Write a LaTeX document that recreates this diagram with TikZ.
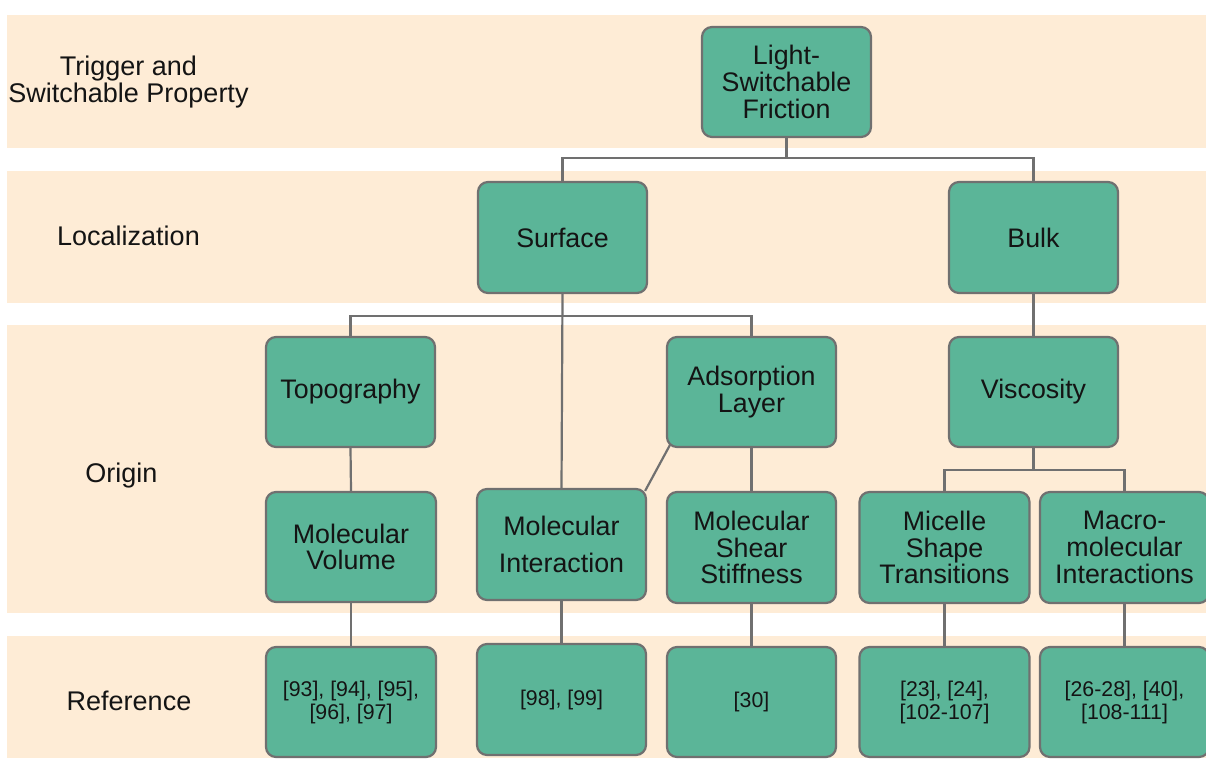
\documentclass[tikz,border=0pt]{standalone}
\usepackage{fontspec}
\setmainfont{Liberation Sans}
\definecolor{band}{RGB}{254,236,214}
\definecolor{boxfill}{RGB}{91,181,152}
\definecolor{boxline}{RGB}{112,112,112}
\definecolor{txt}{RGB}{20,20,20}
\tikzset{
  box/.style={rectangle, rounded corners=10pt, fill=boxfill, draw=boxline, line width=2.2pt,
    minimum width=169pt, minimum height=110pt, inner sep=0pt, align=center, text=txt,
    font=\fontsize{26.8}{26.8}\selectfont},
  refbox/.style={box, font=\fontsize{21.3}{23}\selectfont},
  lbl/.style={align=center, text=txt, inner sep=0pt, font=\fontsize{27}{27}\selectfont},
  conn/.style={draw=boxline, line width=2.2pt}
}
\begin{document}
\begin{tikzpicture}[x=1pt,y=-1pt]
\useasboundingbox (0,0) rectangle (1206,758);
\fill[white] (0,0) rectangle (1206,758);
% bands
\fill[band] (7,15) rectangle (1206,148);
\fill[band] (7,171) rectangle (1206,303);
\fill[band] (7,325) rectangle (1206,613);
\fill[band] (7,636) rectangle (1206,758);
% row labels
\node[lbl] (l1) at (128.5,82) {Trigger and\\Switchable Property};
\node[lbl] (l2) at (128.5,236) {Localization};
\node[lbl] (l3) at (121.5,476) {Origin};
\node[lbl] (l4) at (129,701) {Reference};
% boxes
\node[box] (lsf) at (786.5,82) {Light-\\Switchable\\Friction};
\node[box, minimum height=111pt] (surf) at (562.5,237.5) {Surface};
\node[box, minimum height=111pt] (bulk) at (1033.5,237.5) {Bulk};
\node[box] (topo) at (350.5,392) {Topography};
\node[box] (ads) at (751.5,392) {Adsorption\\Layer};
\node[box] (visc) at (1033.5,392) {Viscosity};
\node[box, minimum width=170pt] (mvol) at (351,547) {Molecular\\Volume};
\node[box, minimum height=111pt] (mint) at (561.5,544.5) {Molecular\\[10.5pt]Interaction};
\node[box, minimum height=111pt] (mshear) at (751.5,547.5) {Molecular\\Shear\\Stiffness};
\node[box, minimum width=170pt, minimum height=111pt] (mic) at (944.5,547.5) {Micelle\\Shape\\Transitions};
\node[box, minimum height=111pt] (mac) at (1124.5,547.5) {Macro-\\molecular\\Interactions};
\node[refbox, minimum width=170pt] (r1) at (351,702) {[93], [94], [95],\\{}[96], [97]};
\node[refbox, minimum height=111pt] (r2) at (561.5,699.5) {[98], [99]};
\node[refbox] (r3) at (751.5,702) {[30]};
\node[refbox, minimum width=170pt] (r4) at (944.5,702) {[23], [24],\\{}[102-107]};
\node[refbox] (r5) at (1124.5,702) {[26-28], [40],\\{}[108-111]};
% connectors
\draw[conn] (lsf.south) -- (lsf.south |- 0,158) -| (surf.north);
\draw[conn] (lsf.south |- 0,158) -| (bulk.north);
\draw[conn] (surf.south) -- (mint.north);
\draw[conn] (surf.south |- 0,316) -| (topo.north);
\draw[conn] (surf.south |- 0,316) -| (ads.north);
\draw[conn] (topo.south) -- (mvol.north);
\draw[conn] (ads.south west) ++(4,-3) coordinate (adsc) (adsc) -- ([shift={(-2,3)}]mint.north east);
\draw[conn] (ads.south) -- (mshear.north);
\draw[conn] (bulk.south) -- (visc.north);
\draw[conn] (visc.south) -- (visc.south |- 0,470) -| (mic.north);
\draw[conn] (visc.south |- 0,470) -| (mac.north);
\draw[conn] (mvol.south) -- (r1.north);
\draw[conn] (mint.south) -- (r2.north);
\draw[conn] (mshear.south) -- (r3.north);
\draw[conn] (mic.south) -- (r4.north);
\draw[conn] (mac.south) -- (r5.north);
\end{tikzpicture}
\end{document}
